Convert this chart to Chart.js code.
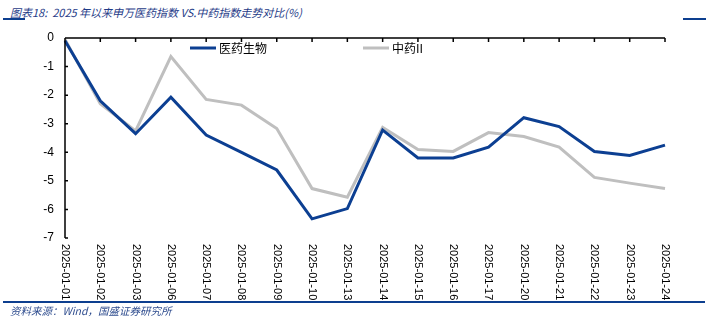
<!DOCTYPE html>
<html>
<head>
<meta charset="utf-8">
<script src="https://cdn.jsdelivr.net/npm/chart.js@4/dist/chart.umd.min.js"></script>
<style>
  body { margin: 0; background: #fff; }
  .wrap { position: relative; width: 712px; height: 326px; }
  .title {
    position: absolute; left: 10px; top: 4px;
    font: italic 11px "Noto Sans CJK SC", sans-serif; color: #1f3c88;
    white-space: nowrap;
  }
  .source {
    position: absolute; left: 10px; top: 303px;
    font: italic 10.5px "Noto Sans CJK SC", sans-serif; color: #2f4d8f;
    white-space: nowrap;
  }
  .rule { position: absolute; height: 1.5px; background: #0d3f8f; }
</style>
</head>
<body>
<div class="wrap">
  <div class="title">图表18:&nbsp; 2025 年以来申万医药指数 VS.中药指数走势对比(%)</div>
  <div class="rule" style="left:3px; top:18px; width:22px;"></div>
  <div class="rule" style="left:683px; top:18px; width:23px;"></div>
  <canvas id="trend" width="712" height="326" style="position:absolute;left:0;top:0;"></canvas>
  <div class="rule" style="left:3px; top:301px; width:702px;"></div>
  <div class="source">资料来源：Wind，国盛证券研究所</div>
</div>

<script>
  var dates = ['2025-01-01', '2025-01-02', '2025-01-03', '2025-01-06', '2025-01-07', '2025-01-08',
               '2025-01-09', '2025-01-10', '2025-01-13', '2025-01-14', '2025-01-15', '2025-01-16',
               '2025-01-17', '2025-01-20', '2025-01-21', '2025-01-22', '2025-01-23', '2025-01-24'];
  var yiyao = [-0.1, -2.2, -3.35, -2.07, -3.4, -4.0, -4.62, -6.33, -5.97, -3.22, -4.2, -4.2,
               -3.82, -2.79, -3.1, -3.97, -4.11, -3.75];
  var zhongyao = [-0.05, -2.3, -3.25, -0.65, -2.15, -2.35, -3.17, -5.27, -5.57, -3.13, -3.9, -3.97,
                  -3.31, -3.45, -3.82, -4.88, -5.08, -5.27];
  var yTicks = [0, -1, -2, -3, -4, -5, -6, -7];

  // axis ticks pointing inward, rotated date labels and the legend
  var extras = {
    id: 'extras',
    afterDraw: function(chart) {
      var c = chart.ctx, a = chart.chartArea;
      var xs = chart.scales.x, ys = chart.scales.y;
      c.save();
      c.strokeStyle = '#000';
      c.lineWidth = 1.5;
      c.beginPath();
      c.moveTo(a.left, a.top); c.lineTo(a.right, a.top);
      c.moveTo(a.left, a.top); c.lineTo(a.left, a.bottom);
      for (var i = 0; i < dates.length; i++) {
        var x = xs.getPixelForTick(i);
        c.moveTo(x, a.top); c.lineTo(x, a.top + 4);
      }
      yTicks.forEach(function(v) {
        var y = ys.getPixelForValue(v);
        c.moveTo(a.left, y); c.lineTo(a.left + 3, y);
      });
      c.stroke();

      c.fillStyle = '#000';
      c.font = '11px "Liberation Sans", sans-serif';
      c.textAlign = 'left';
      c.textBaseline = 'middle';
      for (var j = 0; j < dates.length; j++) {
        c.save();
        c.translate(xs.getPixelForTick(j), a.bottom + 6);
        c.rotate(Math.PI / 2);
        c.fillText(dates[j], 0, 0);
        c.restore();
      }

      var legendX = [a.left + 125, a.left + 298];
      c.font = '12px "Noto Sans CJK SC", serif';
      chart.data.datasets.forEach(function(ds, k) {
        var lx = legendX[k], ly = a.top + 10;
        c.strokeStyle = ds.borderColor;
        c.lineWidth = 3;
        c.beginPath();
        c.moveTo(lx, ly); c.lineTo(lx + 26, ly);
        c.stroke();
        c.fillStyle = '#000';
        c.fillText(ds.label, lx + 29, ly);
      });
      c.restore();
    }
  };

  var ctx = document.getElementById('trend').getContext('2d');
  var chart = new Chart(ctx, {
    type: 'line',
    data: {
      labels: dates,
      datasets: [
        { label: '医药生物', data: yiyao, borderColor: '#0c3f92', borderWidth: 3,
          pointRadius: 0, tension: 0, fill: false },
        { label: '中药II', data: zhongyao, borderColor: '#bfbfbf', borderWidth: 3,
          pointRadius: 0, tension: 0, fill: false }
      ]
    },
    options: {
      responsive: false,
      animation: false,
      layout: { padding: { left: 35, top: 38, right: 47, bottom: 88 } },
      plugins: { legend: { display: false }, tooltip: { enabled: false } },
      scales: {
        x: {
          position: 'top',
          offset: false,
          grid: { display: false },
          border: { display: false },
          ticks: { display: false },
          afterFit: function(s) { s.height = 0; }
        },
        y: {
          min: -7,
          max: 0,
          grid: { display: false, drawTicks: false },
          border: { display: false },
          ticks: {
            stepSize: 1,
            padding: 11,
            color: '#000',
            font: { family: 'Liberation Sans', size: 12 }
          },
          afterFit: function(s) { s.width = 30; }
        }
      }
    },
    plugins: [extras]
  });
</script>
</body>
</html>
